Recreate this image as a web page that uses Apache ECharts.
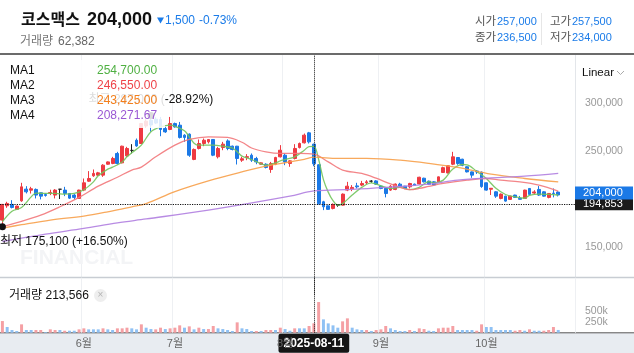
<!DOCTYPE html>
<html>
<head>
<meta charset="utf-8">
<script src="https://cdn.jsdelivr.net/npm/echarts@6/dist/echarts.min.js"></script>
<style>
  html, body { margin: 0; padding: 0; background: #fff; }
  #chart { width: 634px; height: 353px; }
</style>
</head>
<body>
<div id="chart"></div>
<script>
// 거래일 (월, 일자)
const sessions = [
  ['05', [8, 9, 12, 13, 14, 15, 16, 19, 20, 21, 22, 23, 26, 27, 28, 29, 30]],
  ['06', [2, 4, 5, 9, 10, 11, 12, 13, 16, 17, 18, 19, 20, 23, 24, 25, 26, 27, 30]],
  ['07', [1, 2, 3, 4, 7, 8, 9, 10, 11, 14, 15, 16, 17, 18, 21, 22, 23, 24, 25, 28, 29, 30, 31]],
  ['08', [1, 4, 5, 6, 7, 8, 11, 12, 13, 14, 18, 19, 20, 21, 22, 25, 26, 27, 28, 29]],
  ['09', [1, 2, 3, 4, 5, 8, 9, 10, 11, 12, 15, 16, 17, 18, 19, 22, 23, 24, 25, 26, 29, 30]],
  ['10', [1, 2, 10, 13, 14, 15, 16, 17, 20, 21, 22, 23, 24, 27, 28, 29]]
];

// 일봉 [시가, 종가, 저가, 고가] (천원)
const candles = [
  [177.8, 194.2, 171, 194.5], [192.7, 195.2, 190.6, 196.9], [194.2, 191.0, 190.0, 198.6], [189.0, 192.4, 188.5, 193.0],
  [197.9, 212.5, 196.9, 216.7], [210.1, 207.3, 205.6, 213.2], [209.0, 210.5, 205.5, 212.5], [209.8, 203.9, 200.4, 210.8],
  [206.3, 202.8, 199.4, 206.5], [204.5, 203.5, 202.3, 205.6], [205.5, 206.5, 203.9, 209.5], [203.9, 209.1, 200.4, 210.1],
  [210, 210, 199.8, 210], [209.1, 205.6, 202.8, 212.5], [205.6, 200.7, 200, 206], [203.9, 201.5, 199.4, 204.9],
  [200.4, 209.1, 200, 209.5], [209.1, 216.7, 208, 221.2], [218.4, 221.2, 217.7, 228.9], [224, 226.5, 222.9, 230.6],
  [224.7, 227.1, 223.9, 228.1], [224.7, 235.1, 222.9, 236.1], [236.1, 238.5, 235.5, 239], [236.9, 242.1, 236.1, 243.8],
  [247.3, 236.9, 235.8, 249], [237.5, 254.9, 237, 255.4], [244.8, 252.5, 243.8, 254.2], [250.5, 250.5, 247.3, 257],
  [261.1, 255.2, 254.2, 262.9], [257.7, 278.5, 257.5, 279], [276, 281, 274, 283], [282, 277, 270, 287],
  [283, 279, 278, 285], [282.7, 272.3, 265.3, 285.4], [273.3, 269.8, 268.8, 275], [272.3, 278.5, 271.6, 285.4],
  [278.5, 275, 274.3, 279.5], [276.8, 264, 262.9, 280.2], [266.4, 264, 259.4, 267.4], [267.4, 245.5, 243.8, 268.2],
  [241.1, 251.5, 240.3, 252.5], [252.5, 257.7, 251.5, 261.9], [257.7, 261.1, 254.9, 262.9], [259.4, 261.9, 257.7, 262.3],
  [261.9, 245.5, 244.5, 262.2], [243.8, 252.5, 242.1, 254.2], [253.5, 257, 250.7, 259.4], [260.4, 252.5, 250.7, 262],
  [254.9, 251.5, 250.5, 255.5], [254.9, 242.1, 235.8, 255.2], [240.3, 241.8, 238.5, 243.8], [243.2, 244, 240.3, 246.6],
  [245.5, 240.3, 238.5, 247.3], [242.1, 238.5, 236.1, 243.8], [236.1, 237.5, 235.5, 238], [236.1, 232.7, 231.7, 237],
  [230.6, 236.9, 227.1, 238.5], [236.1, 243.1, 235.1, 243.8], [243.8, 250.7, 243.1, 256], [245.5, 238.5, 235.1, 247.3],
  [236.9, 239.6, 233.4, 240.3], [242.1, 252.5, 241.1, 257], [253.5, 257.7, 252.5, 258.7], [258.4, 266.4, 257.7, 268.1],
  [268.8, 259.4, 257.7, 269.8], [257, 236.5, 234, 257.5], [235.5, 194.8, 194, 236], [196.9, 191.7, 188.2, 197.9],
  [192.7, 189, 188.7, 193], [190, 194.2, 189, 195.2], [193.4, 193.4, 191.7, 194.5], [193.4, 204.9, 192.9, 205.6],
  [209.1, 213.2, 208, 217.7], [210.4, 211.9, 208, 214.3], [213.5, 212.5, 210.8, 216.7], [214.3, 216, 213.2, 218.7],
  [216.7, 217.7, 215.3, 219.5], [218.4, 218.4, 216.7, 219.5], [218.7, 215.3, 214.6, 219.5], [213.2, 210.8, 210, 214],
  [211, 205.5, 201.5, 211.5], [209.1, 213.2, 208.3, 214.3], [209.8, 215.3, 209, 216], [215.3, 212.5, 211.9, 216.7],
  [213.2, 210.8, 210, 213.5], [212.5, 216, 210.8, 216.7], [215.3, 214, 213.5, 215.8], [215.5, 222.5, 215, 223],
  [221.5, 217.7, 217, 222], [218.4, 215.2, 214.5, 219], [217.7, 214.5, 214, 218.4], [217.7, 222.9, 217.5, 223.2],
  [227.5, 232.5, 227, 233.5], [227, 234.5, 226.5, 235], [236.1, 243.8, 235.1, 249], [243.1, 236.9, 235.5, 243.5],
  [241.3, 235, 234, 241.8], [233.4, 228.1, 227.5, 234], [228.1, 224.7, 221.9, 228.5], [229, 228, 226, 230],
  [227.8, 212.8, 211.5, 228.5], [216.7, 209.1, 208.5, 217], [210, 211, 204, 211.2], [207.3, 202.8, 201, 208],
  [200.4, 204.9, 199.5, 205.6], [202.8, 197.6, 197, 203.2], [199.4, 202.8, 198.8, 203.2], [203.9, 201.5, 201, 204.3],
  [200.5, 199.5, 199.3, 203], [200.4, 209.1, 200, 209.5], [210.8, 204.6, 204, 211], [206, 207.2, 204.5, 209],
  [209.8, 203.9, 203, 213.3], [207.3, 202.8, 202.3, 207.8], [201.5, 205.6, 200.5, 206], [206, 205.5, 201.5, 210.8],
  [207, 204, 202.5, 208]
];

// 거래량 (천주), 막대 색: r = 전일 대비 증가, b = 감소
const volumes = [
  265, 129, 61, 38, 190, 61, 61, 61, 61, 15,
  76, 61, 61, 45, 45, 45, 76, 99, 76, 76,
  76, 99, 76, 61, 99, 99, 114, 99, 76, 190,
  114, 83, 76, 114, 83, 99, 114, 167, 114, 144,
  76, 114, 83, 83, 152, 99, 83, 61, 38, 235,
  99, 83, 38, 38, 38, 61, 61, 61, 114, 83,
  45, 99, 99, 99, 152, 213.566, 697, 303, 212, 167,
  114, 258, 326, 114, 76, 61, 61, 38, 61, 76,
  152, 99, 61, 38, 38, 61, 38, 99, 83, 45,
  38, 99, 114, 114, 152, 61, 61, 61, 61, 45,
  190, 129, 129, 61, 61, 61, 61, 45, 61, 45,
  76, 45, 45, 45, 61, 129, 62.382
];
const volDir = 'rbbbrbbrrb' + 'rrbrbbrrbb' + 'brbbrrrbbr' + 'bbrrbrrrbr' + 'brbrrbbbbr' +
  'bbbrbrrbrb' + 'brbbrrrbbb' + 'brrbbbrbrr' + 'rbbbbrbrrb' + 'brrrrbbbbr' + 'rbbbbbbrrb' + 'rbbrrrb';

// 이동평균선 [일자 인덱스, 값(천원)]
const ma1 = [[0,176],[2,187],[4,191],[6,202],[7,206],[9,205.6],[11,205.6],[13,204.9],[15,205.6],[17,209.5],
  [19,217.7],[20,224],[22,231],[23,233],[25,238.5],[26,243.8],[27,248],[29,256],[31,270],[33,275],[35,276.8],
  [36,275.7],[38,271],[39,264.6],[40,258],[41,255.9],[44,255.9],[46,254.9],[48,253],[49,249],[50,244.5],[52,241],
  [54,236.5],[55,235.1],[57,237.5],[58,239.6],[59,241],[61,243.8],[63,250.7],[64,254.5],[65,254.7],[66,241],
  [67,220],[68,207],[69,198],[70,193.4],[71,195],[73,204],[75,211.9],[77,216.7],[78,215.3],[80,211.9],[81,210.8],
  [83,212],[85,209.5],[87,212],[89,218],[90,216.7],[92,219.5],[94,231],[96,235.8],[97,235.5],[99,228.5],
  [101,221.2],[103,211],[105,204.5],[107,202.1],[109,200.6],[110,203.5],[112,204.9],[114,204.6],[116,204]];
const ma2 = [[0,171],[4,176.5],[8,183],[12,191.7],[16,201.5],[20,213.2],[24,222.5],[27,230],[29,233],[32,243.8],
  [36,256],[39,261.9],[43,264.6],[47,264],[50,259],[52,253],[55,249],[58,247.3],[62,247.3],[65,246.55],[68,238.5],
  [71,230],[75,226.5],[78,221.5],[81,215.5],[83,212],[85,209.5],[87,210.8],[89,213],[92,216],[97,219.5],
  [101,221.2],[104,219.5],[108,217.7],[112,214.3],[116,208]];
const ma3 = [[0,169.5],[4,173],[10,177.8],[17,182],[22,186.5],[27,191.7],[30,195],[36,207.5],[43,218.7],[50,228.1],
  [55,234.1],[60,238.5],[63,241.2],[65,243.425],[70,242.1],[76,242.1],[83,240.3],[89,237],[95,232.7],[102,225.7],
  [109,221.2],[116,217.7]];
const ma4 = [[0,155.5],[9,163.2],[17,169.2],[24,175],[30,179],[43,188.2],[60,202.8],[65,208.27],[73,209.8],
  [80,211.9],[89,215.3],[95,219.5],[102,221.9],[109,223.6],[116,226.5]];

const maNames = ['MA1', 'MA2', 'MA3', 'MA4'];
const maValues = ['254,700.00', '246,550.00', '243,425.00', '208,271.67'];
const priceTicks = [150000, 250000, 300000];
const volumeTicks = [250000, 500000];

const CURSOR_DATE = '2025-08-11';
const CURSOR_PRICE = 194853;
const CURSOR_VOLUME = '213,566';
const HIGH_TEXT = '최고 287,000 (-28.92%)';
const LOW_TEXT = '최저 175,100 (+16.50%)';
const UNIT = 1000;
const RIGHT_PAD = 3;

const FONT = "'Liberation Sans', 'Noto Sans CJK KR', sans-serif";
const UP = '#ee3a42', DOWN = '#1b79e6', EVEN = '#222';
const VOL_UP = '#f5a0a4', VOL_DOWN = '#8fc1f4';
const maLine = ['#72c45c', '#f2787b', '#f7a04a', '#b07ee0'];
const maText = ['#4fb042', '#ee4349', '#f47f1c', '#9a58d4'];
const BLUE_TXT = '#1a7be8';

// 날짜 카테고리
const dates = [];
sessions.forEach(([m, days]) => days.forEach(d => dates.push('2025-' + m + '-' + String(d).padStart(2, '0'))));
const categories = dates.concat(new Array(RIGHT_PAD).fill(''));
const monthStarts = dates.map((d, i) => (i > 0 && d.slice(5, 7) !== dates[i - 1].slice(5, 7)) ? i : -1).filter(i => i >= 0);
const isMonthStart = (i) => monthStarts.indexOf(i) >= 0;

const fmt = (v) => Math.round(v).toLocaleString('en-US');
const lastClose = candles[candles.length - 1][1] * UNIT;

const candleData = candles.map(c => {
  const v = c.map(x => x * UNIT);
  if (c[0] === c[1]) {
    return { value: v, itemStyle: { color: EVEN, color0: EVEN, borderColor: EVEN, borderColor0: EVEN } };
  }
  return v;
});
const volumeData = volumes.map((v, i) => ({
  value: v * UNIT,
  itemStyle: { color: volDir[i] === 'r' ? VOL_UP : VOL_DOWN }
}));
const maSeries = [ma1, ma2, ma3, ma4].map((ma, k) => ({
  type: 'line',
  name: maNames[k],
  xAxisIndex: 0,
  yAxisIndex: 0,
  data: ma.map(p => [p[0], p[1] * UNIT]),
  smooth: 0.35,
  symbol: 'none',
  silent: true,
  z: 3,
  lineStyle: { width: 1.3, color: maLine[k], opacity: 0.9 }
}));

const txt = (text, x, y, font, fill, extra) => Object.assign({
  type: 'text', z: 60,
  style: { text: text, x: x, y: y, font: font, fill: fill,
    verticalAlign: 'middle', textVerticalAlign: 'middle', align: 'left', textAlign: 'left' }
}, extra || {});

// 가격 태그
const tag = (color) => ({
  show: true, position: 'end', distance: 0, color: '#fff', fontSize: 11,
  backgroundColor: color, padding: [1, 4, 0, 8], width: 46, lineHeight: 12
});

const graphics = [
  { type: 'rect', z: 0, shape: { x: 0, y: 333, width: 634, height: 20 }, style: { fill: '#e8ecf1' } },
  { type: 'line', z: 1, shape: { x1: 575.5, y1: 55, x2: 575.5, y2: 333 }, style: { stroke: '#e3e6ea', lineWidth: 1 } },
  { type: 'line', z: 1, shape: { x1: 0, y1: 54, x2: 634, y2: 54 }, style: { stroke: '#3a3a3a', lineWidth: 1.5 } },
  { type: 'line', z: 1, shape: { x1: 0, y1: 277.5, x2: 634, y2: 277.5 }, style: { stroke: '#c8cdd3', lineWidth: 1.5 } },
  { type: 'line', z: 1, shape: { x1: 0, y1: 332.8, x2: 634, y2: 332.8 }, style: { stroke: '#555', lineWidth: 1 } },
  // watermark
  txt('FINANCIAL', 20, 258, 'bold 21px ' + FONT, '#f3f4f6', { z: 1 }),
  // header
  txt('코스맥스', 21, 20.5, 'bold 16px ' + FONT, '#111'),
  txt('204,000', 87, 20.5, 'bold 18px ' + FONT, '#111'),
  { type: 'polygon', z: 60, shape: { points: [[157, 17.5], [164, 17.5], [160.5, 23.5]] }, style: { fill: BLUE_TXT } },
  txt('1,500', 165, 20.5, '12px ' + FONT, BLUE_TXT),
  txt('-0.73%', 199, 20.5, '12px ' + FONT, BLUE_TXT),
  txt('거래량', 20, 42, '12px ' + FONT, '#777'),
  txt('62,382', 58, 42, '12px ' + FONT, '#666'),
  txt('시가', 475, 21.5, '11.5px ' + FONT, '#555'),
  txt('257,000', 497, 21.5, '11px ' + FONT, BLUE_TXT),
  txt('고가', 550, 21.5, '11.5px ' + FONT, '#555'),
  txt('257,500', 572, 21.5, '11px ' + FONT, BLUE_TXT),
  txt('종가', 475, 37.5, '11.5px ' + FONT, '#555'),
  txt('236,500', 497, 37.5, '11px ' + FONT, BLUE_TXT),
  txt('저가', 550, 37.5, '11.5px ' + FONT, '#555'),
  txt('234,000', 572, 37.5, '11px ' + FONT, BLUE_TXT),
  { type: 'line', z: 60, shape: { x1: 541.5, y1: 13, x2: 541.5, y2: 45 }, style: { stroke: '#e6e6e6', lineWidth: 1 } },
  // MA legend box
  { type: 'rect', z: 50, shape: { x: 0, y: 60, width: 165, height: 68 }, style: { fill: 'rgba(255,255,255,0.85)' } },
  // scale selector
  txt('Linear', 582, 73, '11.5px ' + FONT, '#111'),
  { type: 'polyline', z: 60, shape: { points: [[617, 71], [620.5, 74.5], [624, 71]] }, style: { stroke: '#aaa', lineWidth: 1, fill: null } },
  // volume legend
  txt('거래량 ' + CURSOR_VOLUME, 9, 296, '12px ' + FONT, '#111'),
  { type: 'circle', z: 59, shape: { cx: 100.5, cy: 295.5, r: 6.5 }, style: { fill: '#eeeeee' } },
  { type: 'text', z: 60, style: { text: '×', x: 100.5, y: 295.5, font: '10px ' + FONT, fill: '#b5b5b5',
    align: 'center', textAlign: 'center', verticalAlign: 'middle', textVerticalAlign: 'middle' } }
];
maNames.forEach((n, k) => {
  graphics.push(txt(n, 10, 70.5 + k * 15, '12px ' + FONT, '#111'));
  graphics.push(txt(maValues[k], 97, 70.5 + k * 15, '12px ' + FONT, maText[k]));
});

const splitLine = { show: true, interval: (i) => isMonthStart(i), lineStyle: { color: '#eef0f3', width: 1 } };

const option = {
  animation: false,
  textStyle: { fontFamily: FONT },
  grid: [
    { left: 0, right: 59, top: 55, bottom: 58.3 },
    { left: 0, right: 59, top: 277.7, bottom: 20.3 }
  ],
  xAxis: [
    { type: 'category', gridIndex: 0, data: categories, boundaryGap: true,
      axisLine: { show: false }, axisTick: { show: false }, axisLabel: { show: false }, splitLine: splitLine },
    { type: 'category', gridIndex: 1, data: categories, boundaryGap: true, z: 5,
      axisLine: { show: false }, axisTick: { show: false }, splitLine: splitLine,
      axisLabel: { interval: (i) => isMonthStart(i), margin: 6, color: '#666', fontSize: 11,
        formatter: (v) => v ? parseInt(v.slice(5, 7), 10) + '월' : '' } }
  ],
  yAxis: [
    { type: 'value', gridIndex: 0, position: 'right', min: 100000, max: 350000, interval: 50000,
      axisLine: { show: false }, axisTick: { show: false }, splitLine: { show: false },
      axisLabel: { margin: 10, color: '#999', fontSize: 10.5,
        formatter: (v) => priceTicks.indexOf(v) >= 0 ? fmt(v) : '' } },
    { type: 'value', gridIndex: 1, position: 'right', min: 0, max: 1250000, interval: 250000,
      axisLine: { show: false }, axisTick: { show: false }, splitLine: { show: false },
      axisLabel: { margin: 10, color: '#999', fontSize: 10.5,
        formatter: (v) => volumeTicks.indexOf(v) >= 0 ? (v / 1000) + 'k' : '' } }
  ],
  series: [
    {
      type: 'candlestick', xAxisIndex: 0, yAxisIndex: 0, data: candleData, barWidth: '70%', z: 2,
      itemStyle: { color: UP, color0: DOWN, borderColor: UP, borderColor0: DOWN, borderWidth: 1 },
      markPoint: {
        symbol: 'circle', symbolSize: 7, silent: true, animation: false,
        itemStyle: { color: '#111' },
        data: [
          { type: 'max', valueDim: 'highest',
            label: { show: true, position: 'top', distance: 6, formatter: HIGH_TEXT, color: '#111', fontSize: 12 } },
          { type: 'min', valueDim: 'lowest',
            label: { show: true, position: [1, 13], align: 'left', verticalAlign: 'top', formatter: LOW_TEXT, color: '#111', fontSize: 12 } }
        ]
      },
      markLine: {
        symbol: ['none', 'none'], silent: true, animation: false,
        data: [
          { yAxis: CURSOR_PRICE, lineStyle: { type: 'dotted', color: '#111', width: 1.2 },
            label: Object.assign(tag('#1b1b1b'), { formatter: fmt(CURSOR_PRICE) }) },
          { yAxis: lastClose, lineStyle: { color: 'rgba(0,0,0,0)', width: 0 },
            label: Object.assign(tag(DOWN), { formatter: fmt(lastClose), offset: [0, -2] }) },
          { xAxis: CURSOR_DATE, lineStyle: { type: 'dotted', color: '#111', width: 1 }, label: { show: false } }
        ]
      }
    }
  ].concat(maSeries).concat([
    {
      type: 'bar', xAxisIndex: 1, yAxisIndex: 1, data: volumeData, barWidth: '62%', z: 2,
      markLine: {
        symbol: ['none', 'none'], silent: true, animation: false,
        data: [
          { xAxis: CURSOR_DATE, lineStyle: { type: 'dotted', color: '#111', width: 1 },
            label: { show: true, position: 'start', distance: 1, formatter: CURSOR_DATE, color: '#fff',
              backgroundColor: '#151515', padding: [4, 5, 3, 5], borderRadius: 2, fontSize: 12, fontWeight: 'bold' } }
        ]
      }
    }
  ]),
  graphic: { elements: graphics }
};

const chart = echarts.init(document.getElementById('chart'));
chart.setOption(option);
</script>
</body>
</html>
